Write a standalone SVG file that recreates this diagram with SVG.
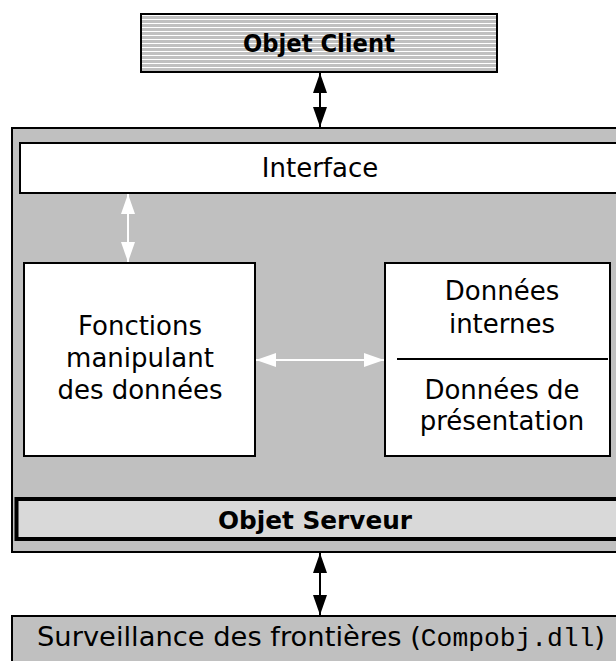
<svg xmlns="http://www.w3.org/2000/svg" width="616" height="661" viewBox="0 0 616 661">
<style>
.t{font-family:"DejaVu Sans",Verdana,sans-serif;font-size:26px;fill:#000;text-anchor:middle}
.b{font-weight:bold}
.m{font-family:"Liberation Mono","Courier New",monospace;font-size:25px}
.box{stroke:#000;stroke-width:2}
.blk{stroke:#000;stroke-width:2;fill:none}
.wht{stroke:#fff;stroke-width:2;fill:none}
</style>
<defs>
<pattern id="stripes" width="8" height="4" patternUnits="userSpaceOnUse">
<rect width="8" height="4" fill="#c0c0c0"/>
<rect y="3" width="8" height="1" fill="#fff"/>
</pattern>
<marker id="ab" markerWidth="20" markerHeight="16" refX="20" refY="8" orient="auto-start-reverse" markerUnits="userSpaceOnUse">
<path d="M0,1 L20,8 L0,15 Z" fill="#000"/>
</marker>
<marker id="aw" markerWidth="20" markerHeight="16" refX="20" refY="8" orient="auto-start-reverse" markerUnits="userSpaceOnUse">
<path d="M0,1 L20,8 L0,15 Z" fill="#fff"/>
</marker>
</defs>
<rect width="616" height="661" fill="#fff"/>

<g id="objet-client">
<rect class="box" x="141" y="14" width="356" height="58" fill="url(#stripes)"/>
<text class="t b" x="319" y="52" style="font-size:25px" textLength="152" lengthAdjust="spacingAndGlyphs">Objet Client</text>
</g>

<g id="objet-serveur-cadre">
<rect class="box" x="12" y="128" width="612" height="424" fill="#c0c0c0"/>
</g>

<g id="interface">
<rect class="box" x="20" y="143" width="600" height="50" fill="#fff"/>
<text class="t" x="320" y="177">Interface</text>
</g>

<g id="fonctions">
<rect class="box" x="24" y="263" width="231" height="193" fill="#fff"/>
<text class="t" x="140" y="335">Fonctions</text>
<text class="t" x="140" y="367">manipulant</text>
<text class="t" x="140" y="399">des données</text>
</g>

<g id="donnees">
<rect class="box" x="385" y="263" width="225" height="193" fill="#fff"/>
<text class="t" x="502" y="300">Données</text>
<text class="t" x="502" y="333">internes</text>
<line x1="397" y1="359" x2="608" y2="359" stroke="#000" stroke-width="2"/>
<text class="t" x="502" y="399">Données de</text>
<text class="t" x="502" y="430">présentation</text>
</g>

<g id="objet-serveur">
<rect x="16.5" y="499" width="610" height="40" fill="#d9d9d9" stroke="#000" stroke-width="4"/>
<text class="t b" x="315" y="529" style="font-size:25px" textLength="194" lengthAdjust="spacingAndGlyphs">Objet Serveur</text>
</g>

<g id="surveillance">
<rect class="box" x="12" y="616" width="612" height="60" fill="#c0c0c0"/>
<text class="t" x="321" y="646" style="font-size:26px" textLength="568" lengthAdjust="spacingAndGlyphs">Surveillance des frontières (<tspan class="m">Compobj.dll</tspan>)</text>
</g>

<g id="connecteurs">
<line class="blk" x1="320" y1="73" x2="320" y2="127" marker-start="url(#ab)" marker-end="url(#ab)"/>
<line class="wht" x1="128" y1="194" x2="128" y2="262" marker-start="url(#aw)" marker-end="url(#aw)"/>
<line class="wht" x1="256" y1="360" x2="384" y2="360" marker-start="url(#aw)" marker-end="url(#aw)"/>
<line class="blk" x1="320" y1="553" x2="320" y2="615" marker-start="url(#ab)" marker-end="url(#ab)"/>
</g>
</svg>
